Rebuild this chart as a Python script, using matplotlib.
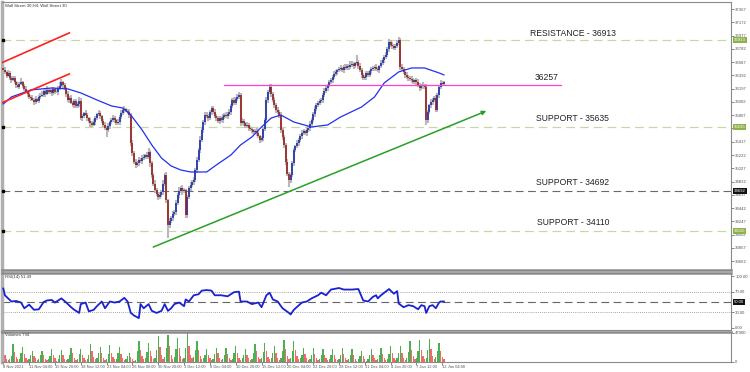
import numpy as np
import matplotlib.pyplot as plt

plt.rcParams['font.family'] = ['Liberation Sans', 'DejaVu Sans']

# H4 candles, Wall Street 30 (bar 0 = 8 Nov 2021)
first_open = 36500
closes = [
    36472, 36440, 36390, 36420, 36360, 36325, 36350, 36290, 36250, 36222, 36270, 36296, 36240, 36190, 36149, 36120,
    36080, 36060, 36030, 36002, 36040, 36020, 36070, 36090, 36105, 36160, 36120, 36180, 36149, 36170, 36130, 36190,
    36150, 36149, 36200, 36240, 36296, 36250, 36207, 36120, 36031, 36060, 35990, 35958, 36010, 35940, 35972, 36020,
    35766, 35790, 35840, 35810, 35760, 35720, 35690, 35664, 35700, 35770, 35820, 35840, 35790, 35720, 35660, 35620,
    35590, 35650, 35700, 35740, 35766, 35730, 35690, 35707, 35780, 35840, 35884, 35900, 35870, 35854, 35810, 35399,
    35250, 35120, 35076, 35110, 35149, 35130, 35178, 35200, 35222, 35190, 35267, 35100, 34928, 34800, 34708, 34650,
    34605, 34640, 34678, 34800, 34928, 34561, 34193, 34250, 34296, 34350, 34384, 34520, 34634, 34700, 34738, 34690,
    34708, 34340, 34600, 34738, 34780, 34820, 34855, 35000, 35149, 35296, 35450, 35590, 35700, 35810, 35790, 35766,
    35850, 35913, 35860, 35800, 35766, 35720, 35760, 35737, 35780, 35810, 35790, 35830, 35854, 35940, 36031, 35990,
    36050, 36080, 36105, 35693, 35720, 35690, 35650, 35664, 35620, 35600, 35590, 35560, 35580, 35546, 35500, 35440,
    35472, 35600, 35737, 36031, 36150, 36222, 36120, 36031, 35950, 35884, 35850, 35810, 35590, 35480, 35370, 35120,
    34950, 34855, 34928, 35100, 35296, 35350, 35400, 35443, 35500, 35546, 35570, 35540, 35590, 35620, 35680, 35737,
    35820, 35900, 35958, 35990, 36010, 36031, 36100, 36160, 36207, 36250, 36290, 36325, 36370, 36410, 36443, 36470,
    36490, 36501, 36470, 36520, 36501, 36530, 36510, 36545, 36560, 36530, 36570, 36590, 36530, 36472, 36400, 36354,
    36370, 36420, 36399, 36450, 36480, 36501, 36520, 36490, 36472, 36530, 36575, 36620, 36660, 36693, 36780, 36884,
    36840, 36820, 36796, 36830, 36870, 36913, 36516, 36480, 36443, 36400, 36369, 36350, 36340, 36325, 36300, 36320,
    36296, 36250, 36207, 36251, 36230, 36222, 35737, 35850, 35958, 36000, 36031, 36060, 35884, 36100, 36222, 36281,
    36270, 36296,
]
# wick lengths beyond the body, in tens of points
up_wick = [
    3, 4, 2, 5, 3, 2, 4, 3, 2, 5, 3, 6, 2, 3, 4, 2,
    3, 2, 4, 3, 5, 2, 3, 4, 6, 2, 3, 5, 3, 2, 4, 3,
    2, 4, 3, 5, 4, 2, 3, 2, 4, 3, 5, 2, 4, 3, 3, 5,
    4, 3, 2, 5, 3, 2, 4, 3, 5, 3, 2, 4, 3, 2, 3, 4,
    3, 4, 2, 3, 5, 3, 2, 4, 3, 5, 3, 4, 2, 3, 4, 3,
    4, 3, 5, 3, 4, 3, 5, 3, 2, 4, 6, 3, 4, 3, 5, 3,
    3, 4, 3, 5, 3, 4, 2, 4, 3, 5, 3, 4, 3, 5, 3, 4,
    3, 2, 4, 3, 4, 3, 5, 3, 4, 3, 5, 4, 3, 4, 5, 3,
    4, 3, 3, 4, 2, 3, 4, 3, 4, 3, 5, 3, 4, 3, 3, 4,
    3, 4, 4, 3, 4, 3, 2, 4, 3, 3, 4, 2, 3, 4, 3, 2,
    3, 4, 3, 4, 3, 4, 5, 3, 4, 3, 4, 3, 5, 3, 4, 3,
    4, 3, 3, 4, 3, 2, 4, 3, 3, 4, 3, 2, 4, 3, 4, 3,
    3, 4, 3, 2, 4, 3, 3, 4, 3, 2, 4, 3, 3, 4, 3, 2,
    3, 4, 2, 3, 4, 3, 3, 6, 4, 3, 2, 10, 3, 4, 3, 2,
    3, 4, 3, 2, 4, 3, 3, 4, 3, 2, 4, 3, 3, 4, 3, 4,
    3, 4, 3, 2, 4, 4, 3, 4, 3, 2, 4, 3, 3, 4, 3, 2,
    3, 4, 3, 2, 4, 3, 4, 3, 2, 4, 3, 3, 4, 3, 2, 4,
    3, 2,
]
down_wick = [
    2, 3, 4, 2, 3, 5, 2, 3, 4, 2, 3, 2, 4, 3, 2, 4,
    3, 4, 2, 5, 3, 2, 4, 3, 2, 3, 4, 2, 3, 3, 4, 2,
    3, 2, 4, 3, 2, 4, 3, 4, 3, 5, 2, 3, 4, 3, 2, 4,
    3, 4, 3, 2, 4, 3, 5, 3, 2, 4, 3, 3, 4, 3, 2, 3,
    10, 3, 4, 2, 3, 4, 3, 2, 4, 3, 3, 4, 2, 3, 4, 5,
    4, 3, 4, 3, 5, 3, 4, 3, 4, 3, 3, 5, 4, 3, 4, 3,
    4, 3, 3, 4, 3, 5, 19, 4, 3, 4, 3, 4, 3, 4, 3, 5,
    3, 5, 4, 3, 4, 3, 4, 3, 4, 3, 4, 3, 4, 3, 3, 4,
    3, 4, 4, 3, 4, 3, 4, 3, 4, 3, 3, 4, 3, 4, 3, 3,
    4, 3, 3, 4, 3, 4, 3, 3, 4, 3, 4, 3, 3, 4, 3, 4,
    3, 4, 3, 3, 4, 3, 4, 3, 3, 4, 3, 4, 4, 3, 4, 5,
    4, 10, 4, 3, 4, 3, 3, 4, 3, 4, 3, 3, 4, 3, 4, 3,
    3, 4, 3, 3, 4, 3, 4, 3, 3, 4, 3, 3, 4, 3, 3, 4,
    3, 4, 3, 4, 3, 3, 4, 3, 3, 4, 3, 3, 4, 3, 4, 3,
    3, 4, 3, 3, 4, 3, 4, 3, 3, 4, 3, 3, 4, 3, 3, 4,
    3, 4, 3, 3, 4, 3, 4, 3, 3, 4, 3, 4, 3, 4, 3, 3,
    4, 3, 4, 3, 4, 3, 7, 4, 3, 4, 4, 3, 3, 3, 4, 3,
    3, 4,
]
# volumes in thousands, one row per trading day (6 H4 bars)
volumes = [
    18, 11, 5, 3, 4, 10,  29, 16, 8, 4, 5, 14,  24, 13, 7, 3, 5, 12,
    18, 10, 6, 3, 4, 11,  18, 12, 5, 3, 4, 10,  21, 12, 6, 2, 5, 12,
    19, 11, 5, 3, 4, 11,  22, 14, 6, 3, 5, 13,  21, 12, 7, 3, 4, 12,
    29, 17, 8, 4, 6, 15,  24, 14, 7, 3, 5, 13,  27, 15, 8, 4, 5, 14,
    24, 13, 6, 3, 5, 9,   14, 8, 4, 2, 3, 18,   34, 20, 9, 4, 6, 16,
    30, 18, 9, 4, 7, 20,  42, 24, 11, 5, 8, 22, 43, 25, 12, 5, 8, 21,
    39, 22, 10, 5, 7, 23, 46, 26, 12, 6, 8, 20, 34, 19, 9, 4, 6, 12,
    21, 12, 6, 3, 5, 13,  23, 14, 7, 3, 5, 12,  23, 13, 6, 3, 5, 14,
    26, 15, 7, 3, 6, 12,  21, 12, 6, 3, 5, 15,  29, 17, 8, 4, 6, 16,
    31, 18, 8, 4, 6, 14,  26, 15, 7, 3, 6, 18,  36, 21, 10, 4, 7, 17,
    34, 19, 9, 4, 6, 12,  23, 13, 6, 3, 5, 12,  23, 13, 6, 3, 5, 11,
    21, 12, 6, 3, 4, 11,  21, 12, 5, 3, 4, 12,  23, 13, 6, 3, 5, 11,
    21, 12, 5, 2, 4, 9,   18, 10, 5, 2, 4, 11,  21, 12, 6, 3, 4, 12,
    23, 13, 6, 3, 5, 13,  26, 15, 7, 3, 6, 14,  26, 15, 7, 3, 6, 16,
    34, 19, 9, 4, 7, 18,  35, 20, 9, 4, 7, 19,  37, 21, 10, 4, 8, 17,
    31, 17, 8, 4,
]
# moving average (blue line) vertices: bar index, price
ma_x = [0, 5, 17, 30, 40, 48, 58, 67, 74, 79, 86, 92, 98, 104, 110, 116, 126, 132,
        141, 147, 154, 160, 166, 172, 180, 191, 201, 209, 222, 230, 236, 245, 253, 261, 270, 273]
ma_v = [35972, 36075, 36178, 36207, 36193, 36134, 36031, 35943, 35913, 35810, 35590, 35370,
        35178, 35061, 35002, 34973, 34973, 35076, 35222, 35370, 35487, 35634, 35766, 35810,
        35707, 35634, 35664, 35781, 35928, 36075, 36281, 36443, 36501, 36501, 36428, 36399]
# RSI(14) vertices
rsi_x = [0, 1, 5, 8, 11, 13, 16, 19, 22, 25, 27, 30, 32, 36, 39, 42, 44, 47, 48, 51, 53, 56,
         58, 61, 63, 66, 69, 72, 75, 77, 79, 81, 84, 85, 87, 90, 92, 95, 98, 100, 102, 104,
         106, 109, 112, 113, 115, 118, 121, 123, 126, 129, 131, 135, 139, 143, 146, 147, 151,
         154, 158, 160, 163, 165, 167, 170, 173, 177, 178, 180, 185, 188, 191, 195, 197, 200,
         203, 208, 211, 216, 220, 223, 226, 229, 231, 232, 234, 239, 242, 244, 245, 248, 251,
         254, 257, 259, 261, 262, 264, 266, 268, 270, 271, 273]
rsi_v = [76, 63, 51, 52, 49, 38, 45, 35, 36, 50, 53, 54, 49, 57, 49, 40, 35, 29, 46, 49, 32, 35,
         42, 51, 38, 51, 49, 51, 58, 51, 29, 24, 19, 46, 38, 46, 33, 29, 33, 46, 33, 38,
         46, 49, 42, 55, 51, 63, 65, 72, 73, 72, 63, 63, 61, 69, 70, 51, 51,
         46, 49, 40, 63, 68, 55, 51, 38, 29, 26, 35, 49, 51, 57, 63, 68, 63,
         74, 77, 74, 74, 75, 53, 51, 60, 63, 57, 63, 75, 66, 71, 47, 40, 44,
         42, 36, 44, 42, 29, 42, 44, 38, 49, 51, 51]

time_labels = ['8 Nov 2021', '11 Nov 04:00', '15 Nov 20:00', '18 Nov 12:00', '23 Nov 04:00',
               '26 Nov 00:00', '30 Nov 20:00', '3 Dec 12:00', '8 Dec 04:00', '10 Dec 20:00',
               '15 Dec 12:00', '20 Dec 04:00', '22 Dec 20:00', '28 Dec 12:00', '31 Dec 04:00',
               '4 Jan 20:00', '7 Jan 12:00', '12 Jan 04:00']
price_ticks = [37367, 37172, 36977, 36782, 36587, 36392, 36197, 36002, 35807, 35612,
               35417, 35222, 35027, 34832, 34637, 34442, 34247, 34052, 33857, 33662]
support_levels = [36913, 35635, 34110]
support_texts = ['RESISTANCE - 36913', 'SUPPORT - 35635', 'SUPPORT - 34110']
dark_level = 34692
mid_level = 36257

opens = np.array([first_open] + closes[:-1])
closes_a = np.array(closes)
highs = np.maximum(opens, closes_a) + 10 * np.array(up_wick)
lows = np.minimum(opens, closes_a) - 10 * np.array(down_wick)
idx = np.arange(len(closes))
vol = np.array(volumes) * 1000

small = 3.1

fig = plt.figure(figsize=(7.5, 3.72), dpi=100)
fig.patch.set_facecolor('white')
ax = fig.add_axes([0.0027, 0.274, 0.972, 0.721])
ax_r = fig.add_axes([0.0027, 0.113, 0.972, 0.153], sharex=ax)
ax_v = fig.add_axes([0.0027, 0.027, 0.972, 0.081], sharex=ax)

xmin, xmax = -0.8, 450.9
frame = '#8a8a8a'
for a in (ax, ax_r, ax_v):
    a.set_facecolor('white')
    for s in a.spines.values():
        s.set_color(frame)
        s.set_linewidth(0.8)
    a.spines['left'].set_linewidth(2.5)
    a.spines['left'].set_color('#b0b0b0')
    a.yaxis.tick_right()
    a.tick_params(axis='y', length=2, width=0.5, colors='#555555', labelsize=small, pad=1)
    a.tick_params(axis='x', length=0, labelbottom=False)
ax_r.spines['top'].set_linewidth(1.8)
ax_v.spines['top'].set_linewidth(1.8)
ax.spines['bottom'].set_linewidth(1.8)

# candles
up = closes_a >= opens
ax.vlines(idx, lows, highs, color='#b8b8b8', lw=1.5, zorder=2)
ax.vlines(idx[up], opens[up], closes_a[up], color='#1c2fa8', lw=1.2, zorder=3)
ax.vlines(idx[~up], opens[~up], closes_a[~up], color='#96201c', lw=1.2, zorder=3)

ax.plot(ma_x, ma_v, color='#2030f0', lw=0.9, zorder=4)

# horizontal levels
for lv in support_levels:
    ax.axhline(lv, color='#c8d8a4', lw=0.9, dashes=(7, 4), zorder=1)
    ax.plot(xmin + 0.4, lv, 's', ms=1.6, color='black', clip_on=False, zorder=5)
ax.axhline(dark_level, color='#6a6a6a', lw=0.8, dashes=(7, 4), zorder=1)
ax.plot(xmin + 0.4, dark_level, 's', ms=1.6, color='black', clip_on=False, zorder=5)
ax.plot([136.9, 345.7], [mid_level, mid_level], color='#ff3fd2', lw=0.9, zorder=4)

# trend lines
ax.plot([-1.2, 40.9], [36575, 37016], color='#ff2020', lw=1.2, zorder=4)
ax.plot([-1.2, 40.9], [35987, 36413], color='#ff2020', lw=1.2, zorder=4)
ax.annotate('', xy=(299.3, 35869), xytext=(92.9, 33870),
            arrowprops=dict(arrowstyle='-|>', color='#27a027', lw=1.1,
                            mutation_scale=6, shrinkA=0, shrinkB=0), zorder=4)

txt = dict(fontsize=6.2, color='#222222', ha='center', va='bottom', zorder=6)
ax.text(353, 36913 + 35, support_texts[0], **txt)
ax.text(352.9, 35635 + 60, support_texts[1], **txt)
ax.text(352.9, 34110 + 60, support_texts[2], **txt)
ax.text(352.9, dark_level + 60, 'SUPPORT - 34692', **txt)
ax.text(336.4, mid_level + 40, '36257', **txt)

ax.set_xlim(xmin, xmax)
ax.set_ylim(33532, 37472)
ax.set_yticks(price_ticks)
ax.set_yticklabels([str(p) for p in price_ticks])
ax.text(0.004, 0.995, 'Wall Street 30,H4: Wall Street 30', transform=ax.transAxes,
        fontsize=small, color='#333333', ha='left', va='top')

box = dict(fontsize=small, ha='left', va='center', transform=ax.get_yaxis_transform(), zorder=7, clip_on=False)
for lv in support_levels:
    ax.text(1.004, lv, str(lv), color='white',
            bbox=dict(boxstyle='square,pad=0.2', fc='#8db24a', ec='none'), **box)
ax.text(1.004, dark_level, str(dark_level), color='white',
        bbox=dict(boxstyle='square,pad=0.2', fc='#111111', ec='none'), **box)

# RSI panel
ax_r.plot(rsi_x, rsi_v, color='#1a22d0', lw=1.3, zorder=3)
ax_r.axhline(70, color='#888888', lw=0.6, ls=(0, (1, 1.5)))
ax_r.axhline(30, color='#888888', lw=0.6, ls=(0, (1, 1.5)))
ax_r.axhline(50, color='#666666', lw=0.8, dashes=(7, 4))
ax_r.set_ylim(-3.8, 105.8)
ax_r.set_yticks([100, 70, 30, 0])
ax_r.set_yticklabels(['100.00', '70.00', '30.00', '0.00'])
ax_r.text(1.004, 50, '50.00', color='white', fontsize=small, ha='left', va='center',
          transform=ax_r.get_yaxis_transform(), clip_on=False,
          bbox=dict(boxstyle='square,pad=0.2', fc='#111111', ec='none'))
ax_r.text(0.004, 0.97, 'RSI(14) 51.49', transform=ax_r.transAxes,
          fontsize=small, color='#333333', ha='left', va='top')

# Volumes panel
prev = np.concatenate([[vol[0]], vol[:-1]])
vcol = np.where(vol > prev, '#4fae4f', '#f06a6a')
ax_v.bar(idx, vol, width=0.8, color=vcol, linewidth=0)
ax_v.set_ylim(0, 48500)
ax_v.set_yticks([47000, 0])
ax_v.set_yticklabels(['47000', '0'])
ax_v.text(0.004, 0.97, 'Volumes 794', transform=ax_v.transAxes,
          fontsize=small, color='#333333', ha='left', va='top')

ax_v.set_xticks(np.arange(len(time_labels)) * 16)
ax_v.set_xticklabels(time_labels)
ax_v.tick_params(axis='x', length=2, width=0.5, colors='#555555', labelbottom=True,
                 labelsize=2.9, pad=0.5)
for lab in ax_v.get_xticklabels():
    lab.set_ha('left')

fig.savefig('out.png', dpi=100, facecolor='white')
